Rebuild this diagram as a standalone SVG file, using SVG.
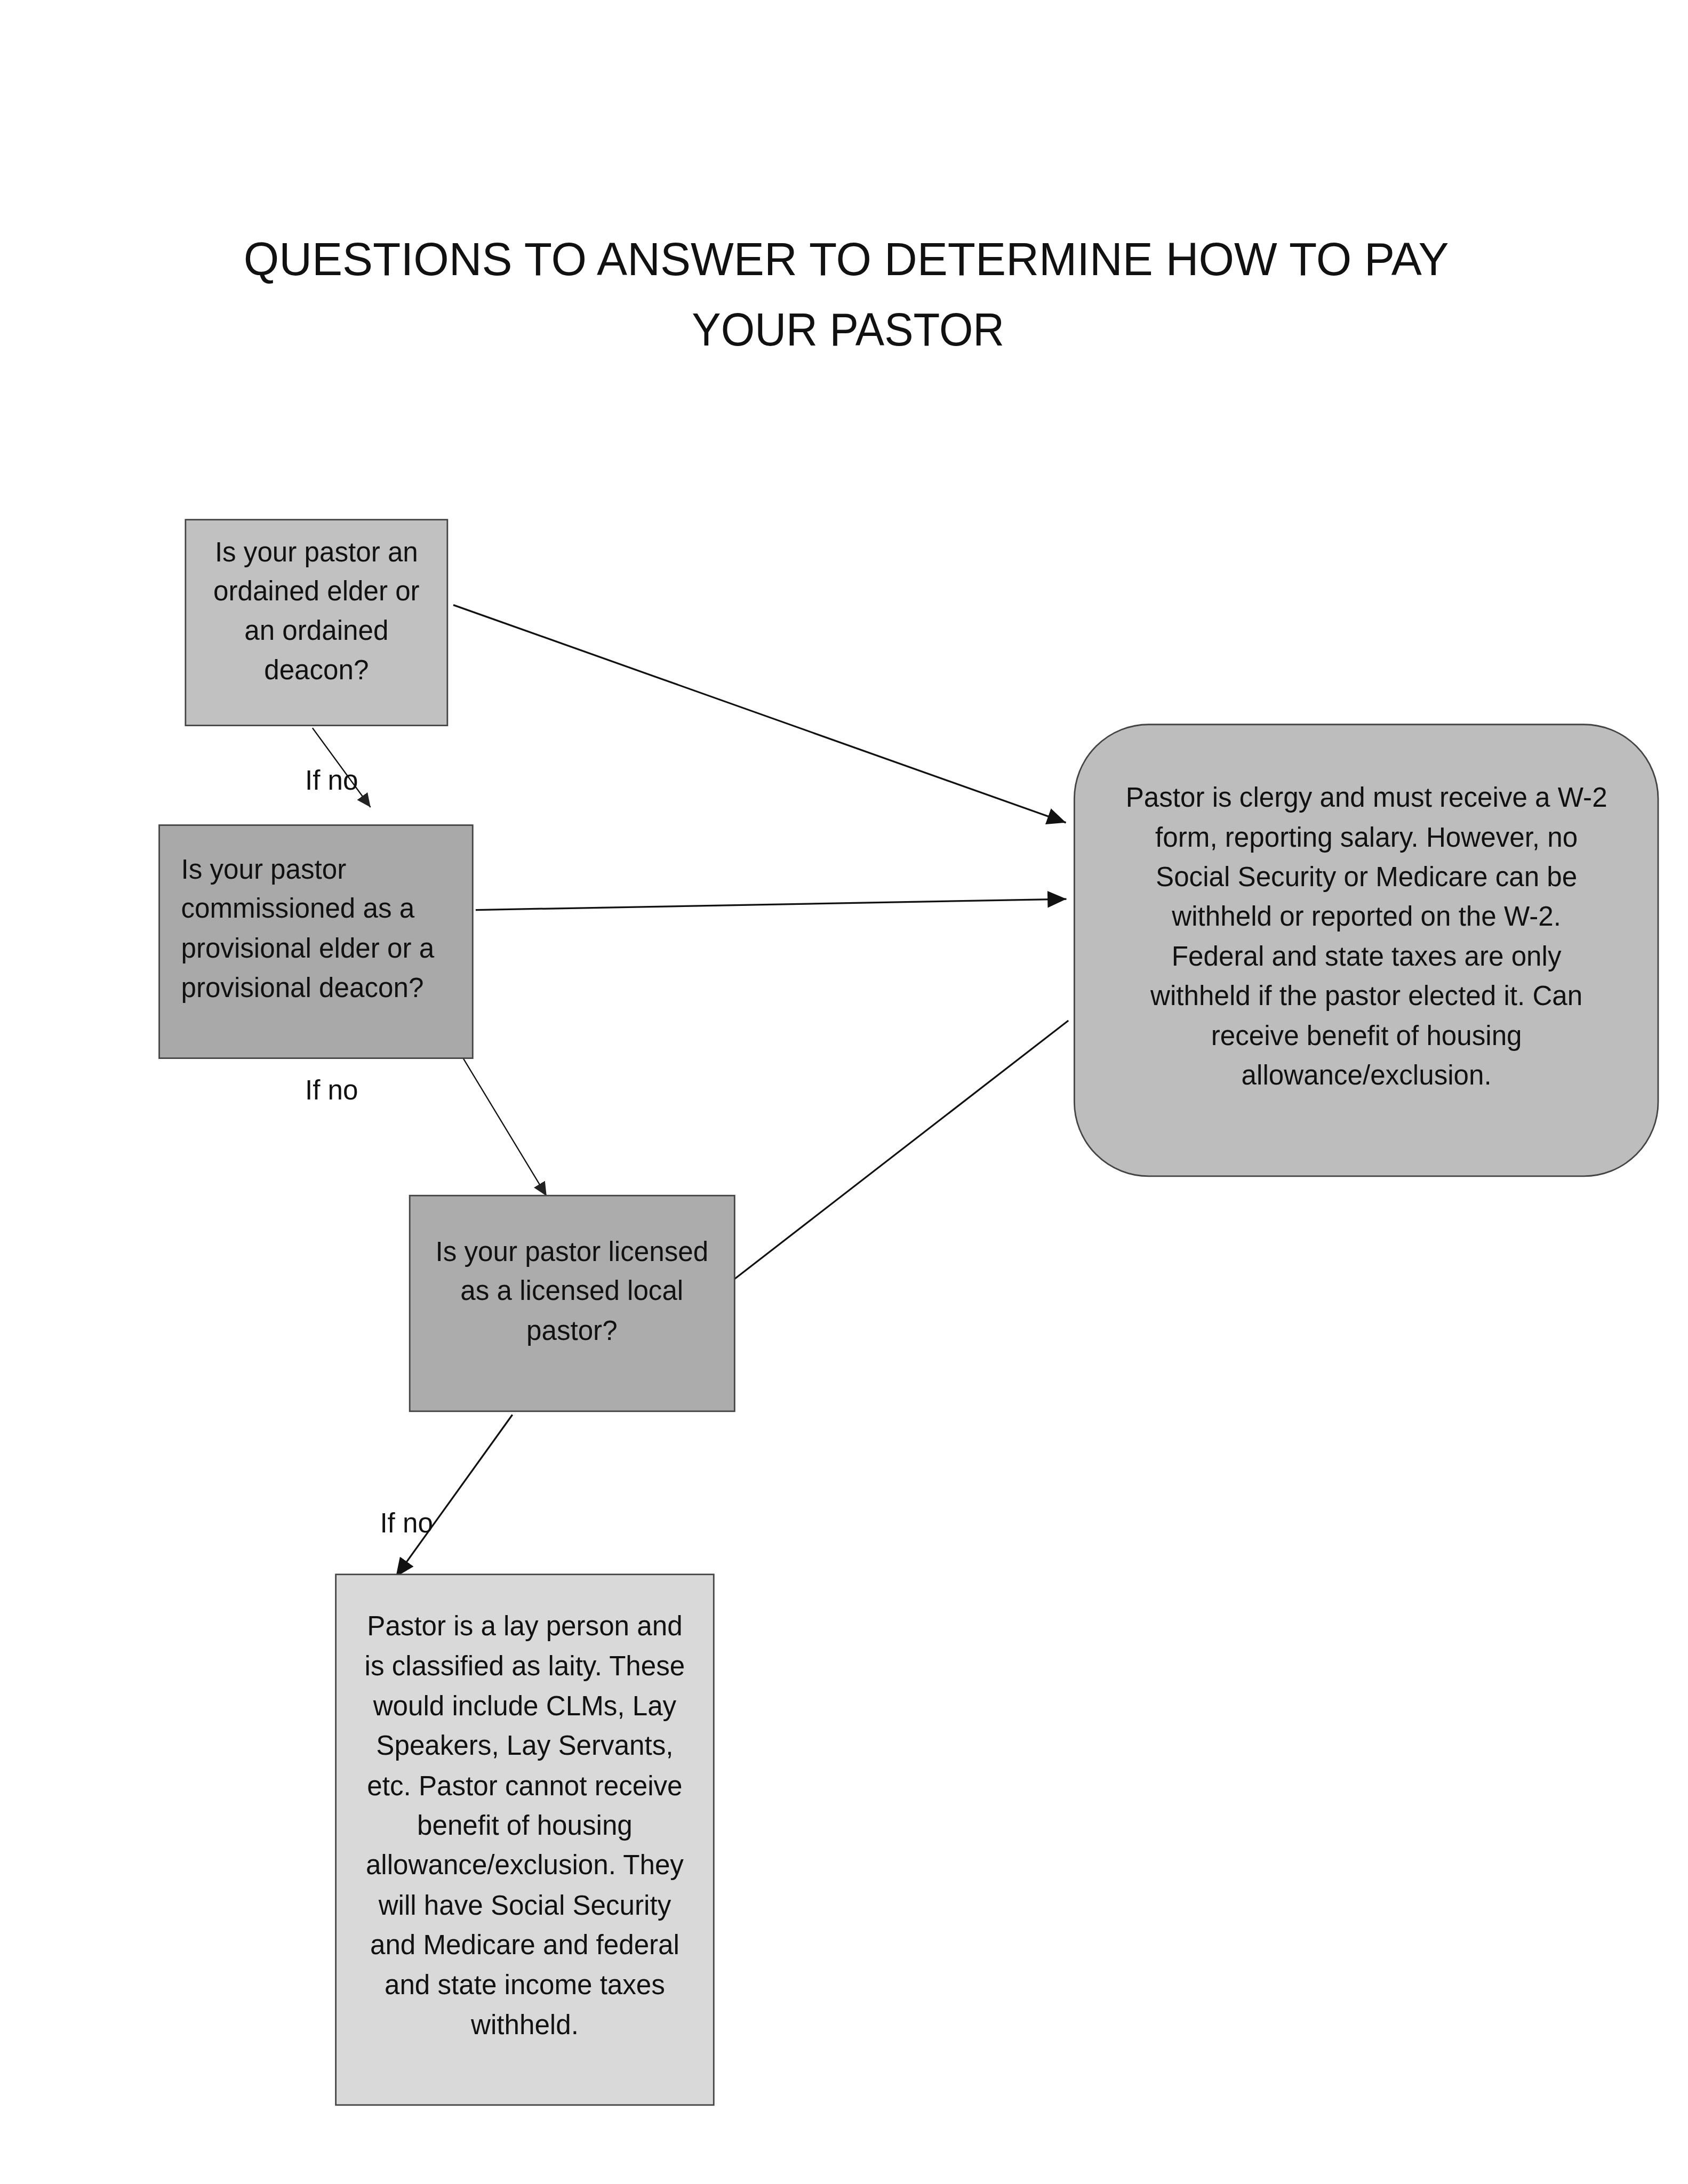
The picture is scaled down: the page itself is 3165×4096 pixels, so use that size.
<svg xmlns="http://www.w3.org/2000/svg" width="3165" height="4096" viewBox="0 0 3165 4096">
<style>
.t{font-family:"Liberation Sans",Arial,sans-serif;font-size:55px;fill:#111}
.c{text-anchor:middle}
.ttl{font-family:"Liberation Sans",Arial,sans-serif;font-size:94px;fill:#111;text-anchor:middle}
.box{stroke:#444;stroke-width:3}
.ln{stroke:#111;stroke-width:3.5;fill:none}
</style>
<defs>
<marker id="ah" markerUnits="userSpaceOnUse" markerWidth="40" markerHeight="34" refX="38" refY="17" orient="auto">
<path d="M0,0 L38,17 L0,34 Z" fill="#111"/>
</marker>
<marker id="ahs" markerUnits="userSpaceOnUse" markerWidth="30" markerHeight="26" refX="28" refY="13" orient="auto">
<path d="M0,0 L28,13 L0,26 Z" fill="#222"/>
</marker>
</defs>
<rect x="0" y="0" width="3165" height="4096" fill="#ffffff"/>
<g transform="scale(0.93)">
<g id="title">
<text class="ttl" x="1706" y="555" textLength="2430" lengthAdjust="spacingAndGlyphs">QUESTIONS TO ANSWER TO DETERMINE HOW TO PAY</text>
<text class="ttl" x="1710" y="697" textLength="630" lengthAdjust="spacingAndGlyphs">YOUR PASTOR</text>
</g>
<g id="connectors">
<line class="ln" x1="914" y1="1220" x2="2149" y2="1659" marker-end="url(#ah)"/>
<line class="ln" x1="959" y1="1835" x2="2150" y2="1813" marker-end="url(#ah)"/>
<line class="ln" x1="1476" y1="2583" x2="2154" y2="2058"/>
<line class="ln" style="stroke-width:2.5" x1="630" y1="1468" x2="747" y2="1628" marker-end="url(#ahs)"/>
<line class="ln" style="stroke-width:2.5" x1="918" y1="2108" x2="1102" y2="2412" marker-end="url(#ahs)"/>
<line class="ln" x1="1033" y1="2853" x2="798" y2="3180" marker-end="url(#ah)"/>
</g>
<g id="labels">
<text class="t" x="615" y="1593">If no</text>
<text class="t" x="615" y="2217">If no</text>
<text class="t" x="766" y="3090">If no</text>
</g>
<g id="q1">
<rect class="box" x="374" y="1048" width="528" height="415" fill="#c1c1c1"/>
<text class="t c" x="638" y="1132">Is your pastor an</text>
<text class="t c" x="638" y="1211">ordained elder or</text>
<text class="t c" x="638" y="1290">an ordained</text>
<text class="t c" x="638" y="1370">deacon?</text>
</g>
<g id="q2">
<rect class="box" x="321" y="1664" width="632" height="470" fill="#a9a9a9"/>
<text class="t" x="365" y="1772">Is your pastor</text>
<text class="t" x="365" y="1851">commissioned as a</text>
<text class="t" x="365" y="1931">provisional elder or a</text>
<text class="t" x="365" y="2011">provisional deacon?</text>
</g>
<g id="q3">
<rect class="box" x="826" y="2411" width="655" height="435" fill="#acacac"/>
<text class="t c" x="1153" y="2543">Is your pastor licensed</text>
<text class="t c" x="1153" y="2622">as a licensed local</text>
<text class="t c" x="1153" y="2702">pastor?</text>
</g>
<g id="clergy">
<rect class="box" x="2166" y="1461" width="1177" height="911" rx="150" ry="150" fill="#bdbdbd"/>
<text class="t c" x="2755" y="1627">Pastor is clergy and must receive a W-2</text>
<text class="t c" x="2755" y="1707">form, reporting salary. However, no</text>
<text class="t c" x="2755" y="1787">Social Security or Medicare can be</text>
<text class="t c" x="2755" y="1867">withheld or reported on the W-2.</text>
<text class="t c" x="2755" y="1947">Federal and state taxes are only</text>
<text class="t c" x="2755" y="2027">withheld if the pastor elected it. Can</text>
<text class="t c" x="2755" y="2107">receive benefit of housing</text>
<text class="t c" x="2755" y="2187">allowance/exclusion.</text>
</g>
<g id="lay">
<rect class="box" x="677" y="3175" width="762" height="1070" fill="#d9d9d9"/>
<text class="t c" x="1058" y="3298">Pastor is a lay person and</text>
<text class="t c" x="1058" y="3378">is classified as laity. These</text>
<text class="t c" x="1058" y="3459">would include CLMs, Lay</text>
<text class="t c" x="1058" y="3539">Speakers, Lay Servants,</text>
<text class="t c" x="1058" y="3620">etc. Pastor cannot receive</text>
<text class="t c" x="1058" y="3700">benefit of housing</text>
<text class="t c" x="1058" y="3780">allowance/exclusion. They</text>
<text class="t c" x="1058" y="3861">will have Social Security</text>
<text class="t c" x="1058" y="3941">and Medicare and federal</text>
<text class="t c" x="1058" y="4022">and state income taxes</text>
<text class="t c" x="1058" y="4102">withheld.</text>
</g>
</g>
</svg>
